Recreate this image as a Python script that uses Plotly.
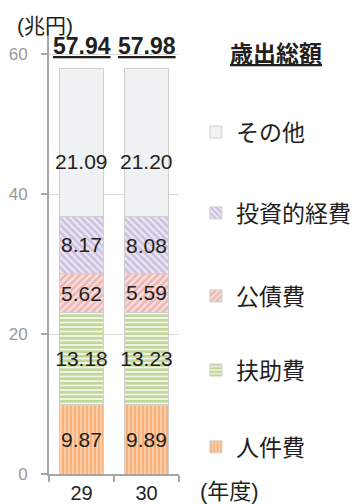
import plotly.graph_objects as go

# 歳出総額の内訳（兆円）
years = ["29", "30"]
jinken = [9.87, 9.89]      # 人件費
fujo = [13.18, 13.23]      # 扶助費
kosai = [5.62, 5.59]       # 公債費
toshi = [8.17, 8.08]       # 投資的経費
sonota = [21.09, 21.20]    # その他
totals = [57.94, 57.98]    # 歳出総額

FONT = "Liberation Sans, Arial, Noto Sans CJK JP, sans-serif"
TXT = "#231f20"

series = [
    ("人件費", jinken, dict(shape="|", fgcolor="#f48a3a", bgcolor="#fcd9bb", size=4, solidity=0.65)),
    ("扶助費", fujo, dict(shape="-", fgcolor="#92b64c", bgcolor="#f1f6e6", size=4.5, solidity=0.6)),
    ("公債費", kosai, dict(shape="/", fgcolor="#e0908e", bgcolor="#f8e0df", size=5, solidity=0.55)),
    ("投資的経費", toshi, dict(shape="\\", fgcolor="#ad98ca", bgcolor="#eee8f5", size=5, solidity=0.55)),
    ("その他", sonota, None),
]

# legend placement (paper y of each entry)
legend_y = [0.061, 0.234, 0.401, 0.588, 0.770]
legend_names = ["legend", "legend2", "legend3", "legend4", "legend5"]

fig = go.Figure()
for i, (name, vals, pat) in enumerate(series):
    marker = dict(line=dict(color="#d0d0d0", width=1))
    if pat is None:
        marker["color"] = "#f0f1f3"
        text = None
    else:
        marker["color"] = pat["bgcolor"]
        marker["pattern"] = pat
        text = [f"{v:.2f}" for v in vals]
    fig.add_trace(go.Bar(
        x=years, y=vals, name=name,
        marker=marker,
        text=text,
        textposition="inside" if text else "none",
        insidetextanchor="middle",
        textangle=0,
        constraintext="none",
        textfont=dict(family=FONT, size=21, color=TXT),
        legend=legend_names[i],
        hoverinfo="skip",
    ))

annotations = []
# その他 labels, sitting a little below the segment middle
for xi, (base_parts, v) in enumerate(zip(zip(jinken, fujo, kosai, toshi), sonota)):
    base = sum(base_parts)
    annotations.append(dict(
        x=xi, y=base + v * 0.37, text=f"{v:.2f}", showarrow=False,
        font=dict(family=FONT, size=21, color=TXT), yanchor="middle",
    ))
# totals above each bar
for xi, t in enumerate(totals):
    annotations.append(dict(
        x=xi, y=t, text=f"<b><u>{t:.2f}</u></b>", showarrow=False,
        yanchor="bottom", yshift=8,
        font=dict(family=FONT, size=23, color=TXT),
    ))
annotations += [
    dict(xref="paper", yref="paper", x=-0.03, y=1.0, text="(兆円)", showarrow=False,
         xanchor="center", yanchor="middle", yshift=5,
         font=dict(family=FONT, size=21, color=TXT)),
    dict(xref="paper", yref="paper", x=1.745, y=0.945, text="<b><u>歳出総額</u></b>", showarrow=False,
         xanchor="center", yanchor="middle",
         font=dict(family=FONT, size=23, color=TXT)),
    dict(xref="paper", yref="paper", x=1.39, y=0, text="(年度)", showarrow=False,
         xanchor="center", yanchor="middle", yshift=-17,
         font=dict(family=FONT, size=22, color=TXT)),
]

layout_legends = {}
for name, yv in zip(legend_names, legend_y):
    layout_legends[name] = dict(
        x=1.13, y=yv, xanchor="left", yanchor="middle",
        bgcolor="rgba(0,0,0,0)",
        font=dict(family=FONT, size=23, color=TXT),
    )

fig.update_layout(
    width=359, height=504,
    margin=dict(l=49, r=180, t=30, b=30, autoexpand=False),
    paper_bgcolor="white", plot_bgcolor="white",
    barmode="stack", bargap=0.31,
    showlegend=True,
    annotations=annotations,
    **layout_legends,
    xaxis=dict(
        range=[-0.5, 1.5], type="category",
        showline=True, linecolor="#a6a6a6", linewidth=2,
        ticks="outside", tickson="boundaries", ticklen=6, tickcolor="#a6a6a6", tickwidth=2,
        tickfont=dict(family=FONT, size=20, color=TXT),
        showgrid=False,
    ),
    yaxis=dict(
        range=[0, 63.5], tickvals=[0, 20, 40, 60],
        showline=True, linecolor="#a6a6a6", linewidth=2,
        ticks="outside", ticklen=6, tickcolor="#a6a6a6", tickwidth=2,
        ticklabelstandoff=10,
        tickfont=dict(family=FONT, size=17, color="#9a9a9a"),
        showgrid=True, gridcolor="#dcdcdc", gridwidth=1,
        zeroline=False,
    ),
)

fig.write_html("out.html")
